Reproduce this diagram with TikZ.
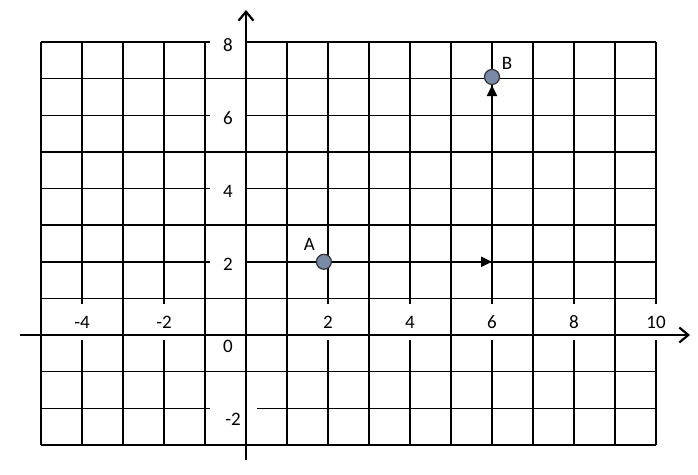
\documentclass[tikz,border=0pt]{standalone}
\usepackage{fontspec}
\setmainfont{Carlito}
\usetikzlibrary{
    positioning,
    calc,
    arrows.meta
}
\definecolor{ptfill}{RGB}{120,138,168}
\tikzset{
  gridline/.style = {
      line width=1.4pt,
      black
  },
  axisline/.style = {
      line width=2.6pt,
      -{Straight Barb[length=9pt,width=15pt,line width=2.2pt]}
  },
  num/.style = {
      font=\fontsize{19}{21}\selectfont,
      fill=white,
      minimum size=36pt,
      inner sep=0pt
  },
  point/.style = {
      circle,
      draw=black!80,
      line width=1.2pt,
      fill=ptfill,
      minimum size=15pt,
      inner sep=0pt
  },
  ptname/.style = {
      font=\fontsize{19}{21}\selectfont,
      inner sep=2pt
  },
  move/.style = {
      line width=2.2pt,
      -{Triangle[length=11pt,width=10pt]}
  }
}
\begin{document}
\begin{tikzpicture}[x=41pt, y=36.6pt]
        \useasboundingbox (-246pt,-139pt) rectangle (452pt,335pt);
        % Grid
        \foreach \i in {-5,...,10}
            \draw[gridline] (\i,-3) -- (\i,8);
        \foreach \j in {-3,...,8}
            \draw[gridline] (-5,\j) -- (10,\j);
        % Numbers
        \foreach \n in {-4,-2,2,4,6,8,10}
            \node[num, yshift=13pt] (x\n) at (\n,0) {\n};
        \foreach \n in {2,4,6,8}
            \node[num, xshift=-18pt, yshift=-3pt] (y\n) at (0,\n) {\n};
        \node[num, xshift=-18pt, yshift=-11pt] (y0) at (0,0) {0};
        \node[num, xshift=-13pt, yshift=-11pt, minimum width=47pt] (ym2) at (0,-2) {-2};
        % Axes
        \coordinate (xmin) at (-5.51,0);
        \coordinate (xmax) at (10.83,0);
        \coordinate (ymin) at (0,-3.42);
        \coordinate (ymax) at (0,8.88);
        \draw[axisline] (xmin) -- (xmax);
        \draw[axisline] (ymin) -- (ymax);
        % Points
        \node[point] (A) at (1.9,2) {};
        \node[point] (B) at (6,7.05) {};
        \coordinate (C) at (6,2);
        \node[ptname, above left=3pt and 1pt of A] (la) {A};
        \node[ptname, above right=0pt and 2pt of B] (lb) {B};
        % Moves
        \draw[move] (A) -- (C);
        \draw[move] (C) -- (B);
\end{tikzpicture}
\end{document}
